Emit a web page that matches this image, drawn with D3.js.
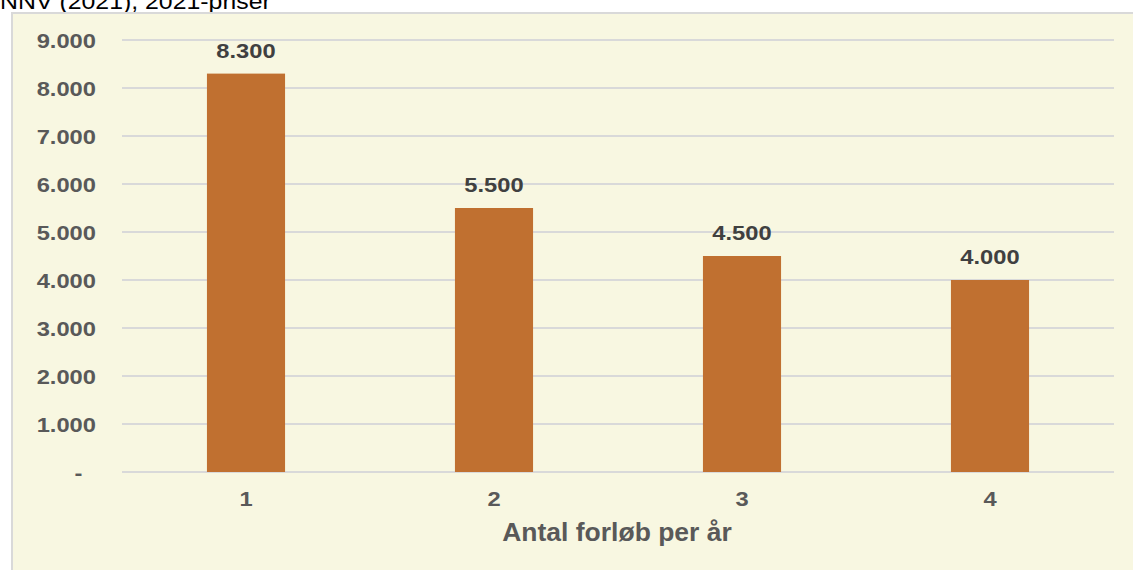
<!DOCTYPE html>
<html>
<head>
<meta charset="utf-8">
<script src="https://d3js.org/d3.v7.min.js"></script>
<style>
body { margin: 0; background: #fff; }
svg text { font-family: "Liberation Sans", Arial, sans-serif; }
</style>
</head>
<body>
<svg width="1133" height="570"></svg>
<script>
var categories = ["1", "2", "3", "4"];
var values = [8300, 5500, 4500, 4000];
var yTicks = [0, 1000, 2000, 3000, 4000, 5000, 6000, 7000, 8000, 9000];

var svg = d3.select("svg");
var fmt = function(v) { return v === 0 ? "-" : d3.format(",")(v).replace(/,/g, "."); };
var sx = 1.13; // the reference text is a bit wider than Liberation Sans

// caption, mostly cropped at the top
svg.append("text")
    .attr("transform", "translate(0,9) scale(" + sx + ",1)")
    .attr("font-size", 22)
    .attr("fill", "#000")
    .text("NNV (2021), 2021-priser");

// panel
svg.append("rect")
    .attr("x", 12)
    .attr("y", 13)
    .attr("width", 1125)
    .attr("height", 562)
    .attr("fill", "#f8f7e1")
    .attr("stroke", "#d9d9d9")
    .attr("stroke-width", 2);

var x = d3.scaleBand().domain(categories).range([122, 1114]).paddingInner(0.685).paddingOuter(0.3425);
var y = d3.scaleLinear().domain([0, 9000]).range([472, 40]);

svg.append("g")
    .selectAll("line")
    .data(yTicks)
    .join("line")
    .attr("x1", 122)
    .attr("x2", 1114)
    .attr("y1", function(d) { return y(d); })
    .attr("y2", function(d) { return y(d); })
    .attr("stroke", "#d9d9d9")
    .attr("stroke-width", 2);

var yAxis = svg.append("g")
    .attr("transform", "translate(96,0)")
    .call(d3.axisLeft(y).tickValues(yTicks).tickFormat(fmt).tickSize(0).tickPadding(0));
yAxis.select(".domain").remove();
yAxis.selectAll("text")
    .attr("x", function(d) { return d === 0 ? -12 : 0; })
    .attr("transform", "scale(" + sx + ",1)")
    .attr("font-size", 21)
    .attr("font-weight", "bold")
    .attr("fill", "#595959")
    .attr("dy", "0.35em");

svg.append("g")
    .selectAll("rect")
    .data(values)
    .join("rect")
    .attr("x", function(d, i) { return x(categories[i]); })
    .attr("y", function(d) { return y(d); })
    .attr("width", x.bandwidth())
    .attr("height", function(d) { return y(0) - y(d); })
    .attr("fill", "#c07030");

svg.append("g")
    .selectAll("text")
    .data(values)
    .join("text")
    .attr("transform", function(d, i) {
        return "translate(" + (x(categories[i]) + x.bandwidth() / 2) + "," + (y(d) - 16) + ") scale(" + sx + ",1)";
    })
    .attr("text-anchor", "middle")
    .attr("font-size", 21)
    .attr("font-weight", "bold")
    .attr("fill", "#404040")
    .text(fmt);

var xAxis = svg.append("g")
    .attr("transform", "translate(0,472)")
    .call(d3.axisBottom(x).tickSize(0).tickPadding(19));
xAxis.select(".domain").remove();
xAxis.selectAll("text")
    .attr("transform", "scale(" + sx + ",1)")
    .attr("font-size", 21)
    .attr("font-weight", "bold")
    .attr("fill", "#595959");

svg.append("text")
    .attr("transform", "translate(617,541) scale(1.06,1)")
    .attr("text-anchor", "middle")
    .attr("font-size", 25)
    .attr("font-weight", "bold")
    .attr("fill", "#595959")
    .text("Antal forløb per år");
</script>
</body>
</html>
